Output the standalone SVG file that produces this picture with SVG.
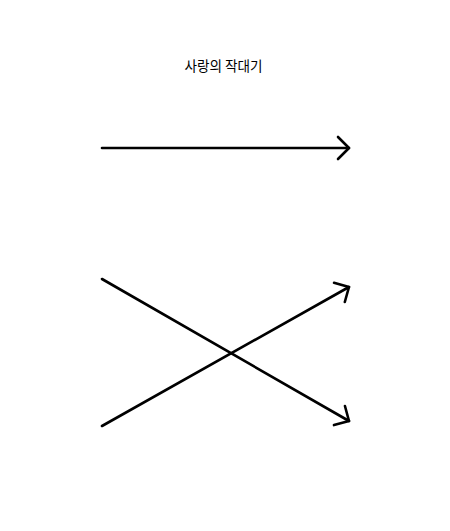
<svg xmlns="http://www.w3.org/2000/svg" width="450" height="531" viewBox="0 0 450 531">
<style>
.edge{fill:none;stroke:#000;stroke-width:2.6;stroke-linecap:round}
.lbl{font-family:"Noto Sans CJK KR","Noto Sans",sans-serif;font-size:13.6px;fill:#000}
</style>
<defs>
<marker id="ah" markerUnits="userSpaceOnUse" viewBox="-14 -14 18 28" markerWidth="18" markerHeight="28" refX="0" refY="0" orient="auto">
<path d="M-11,-11 L0,0 L-11,11" fill="none" stroke="#000" stroke-width="2.6" stroke-linecap="round" stroke-linejoin="round"/>
</marker>
</defs>
<rect width="450" height="531" fill="#fff"/>
<g id="title"><text class="lbl" x="223.5" y="71" text-anchor="middle">사랑의 작대기</text></g>
<g id="connectors">
<line class="edge" x1="102" y1="148" x2="349" y2="148" marker-end="url(#ah)"/>
<line class="edge" x1="102" y1="279" x2="349" y2="421" marker-end="url(#ah)"/>
<line class="edge" x1="102" y1="426" x2="349" y2="287" marker-end="url(#ah)"/>
</g>
</svg>
